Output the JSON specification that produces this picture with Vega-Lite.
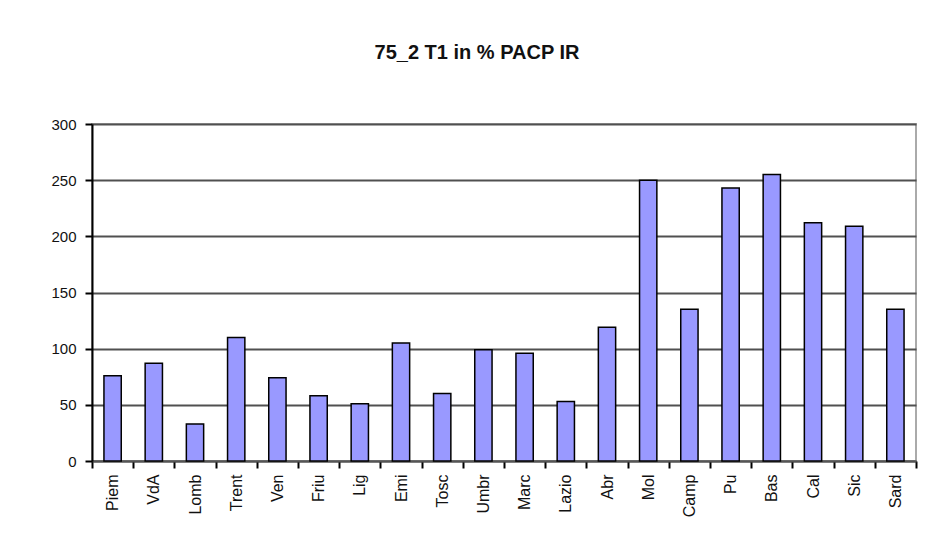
{
  "$schema": "https://vega.github.io/schema/vega-lite/v6.json",
  "width": 824,
  "height": 337,
  "autosize": {"type": "none"},
  "padding": {"left": 92, "top": 124, "right": 22, "bottom": 98},
  "background": "white",
  "title": {
    "text": "75_2 T1 in % PACP IR",
    "font": "Liberation Sans",
    "fontSize": 20,
    "fontWeight": "bold",
    "color": "#111111",
    "anchor": "middle",
    "frame": "group",
    "dx": -27,
    "offset": 54
  },
  "data": {
    "values": [
      {"region": "Piem", "value": 76},
      {"region": "VdA", "value": 87},
      {"region": "Lomb", "value": 33},
      {"region": "Trent", "value": 110},
      {"region": "Ven", "value": 74},
      {"region": "Friu", "value": 58},
      {"region": "Lig", "value": 51},
      {"region": "Emi", "value": 105},
      {"region": "Tosc", "value": 60},
      {"region": "Umbr", "value": 99},
      {"region": "Marc", "value": 96},
      {"region": "Lazio", "value": 53},
      {"region": "Abr", "value": 119},
      {"region": "Mol", "value": 250},
      {"region": "Camp", "value": 135},
      {"region": "Pu", "value": 243},
      {"region": "Bas", "value": 255},
      {"region": "Cal", "value": 212},
      {"region": "Sic", "value": 209},
      {"region": "Sard", "value": 135}
    ]
  },
  "mark": {"type": "bar", "fill": "#9999FF", "stroke": "#000000", "strokeWidth": 1.5, "width": {"band": 0.42}},
  "encoding": {
    "x": {
      "field": "region",
      "type": "nominal",
      "sort": null,
      "scale": {"paddingInner": 0, "paddingOuter": 0},
      "axis": {
        "title": null,
        "labelAngle": -90,
        "labelAlign": "right",
        "labelBaseline": "middle",
        "labelFont": "Liberation Sans",
        "labelFontSize": 16,
        "labelColor": "#111111",
        "labelPadding": 6,
        "tickBand": "extent",
        "tickSize": 7,
        "tickWidth": 2,
        "tickColor": "#000000",
        "domainColor": "#555555",
        "domainWidth": 2,
        "grid": false
      }
    },
    "y": {
      "field": "value",
      "type": "quantitative",
      "scale": {"domain": [0, 300], "nice": false},
      "axis": {
        "title": null,
        "values": [0, 50, 100, 150, 200, 250, 300],
        "labelFont": "Liberation Sans",
        "labelFontSize": 15,
        "labelColor": "#111111",
        "labelPadding": 9,
        "tickSize": 7,
        "tickWidth": 2,
        "tickColor": "#000000",
        "domainColor": "#000000",
        "domainWidth": 2,
        "grid": true,
        "gridColor": "#505050",
        "gridWidth": 2
      }
    }
  },
  "config": {
    "view": {"stroke": "#aaaaaa", "strokeWidth": 2}
  }
}
